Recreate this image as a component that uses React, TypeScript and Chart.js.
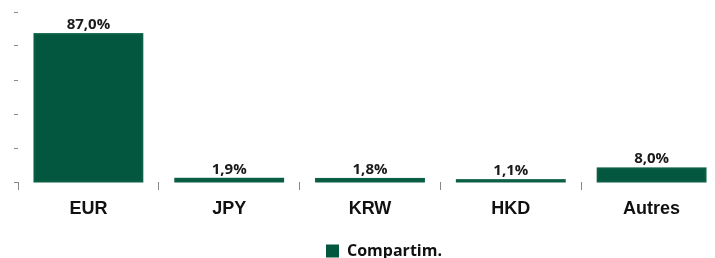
import React, { useEffect, useRef } from "react";
import { Chart, registerables } from "chart.js";

Chart.register(...registerables);

const categories = ["EUR", "JPY", "KRW", "HKD", "Autres"];
const values = [87.0, 1.9, 1.8, 1.1, 8.0];
const seriesName = "Compartim.";
const yTicks = [0, 20, 40, 60, 80, 100];

const GREEN = "#03573F";

const labelPlugin = {
  id: "barLabels",
  afterDatasetsDraw(chart: any) {
    const ctx = chart.ctx;
    const meta = chart.getDatasetMeta(0);
    ctx.save();
    ctx.strokeStyle = "#0b5f45";
    ctx.lineWidth = 2;
    meta.data.forEach((bar: any) => {
      const w = bar.width;
      ctx.strokeRect(bar.x - w / 2, bar.y, w, bar.base - bar.y);
    });
    ctx.font = "bold 15px 'Open Sans'";
    ctx.fillStyle = "#1a1a1a";
    ctx.textAlign = "center";
    ctx.textBaseline = "alphabetic";
    meta.data.forEach((bar: any, i: number) => {
      const txt = values[i].toFixed(1).replace(".", ",") + "%";
      ctx.fillText(txt, bar.x, bar.y - 5);
    });
    ctx.restore();
  },
};

export default function App() {
  const ref = useRef<HTMLCanvasElement | null>(null);
  useEffect(() => {
    if (!ref.current) return;
    const chart = new Chart(ref.current, {
      type: "bar",
      data: {
        labels: categories,
        datasets: [
          {
            label: seriesName,
            data: values,
            backgroundColor: GREEN,
            borderWidth: 0,
            categoryPercentage: 1,
            barPercentage: 0.766,
          },
        ],
      },
      options: {
        responsive: false,
        animation: false,
        maintainAspectRatio: false,
        layout: { padding: { left: 14, right: 0, top: 12, bottom: 0 } },
        plugins: {
          tooltip: { enabled: false },
          legend: {
            position: "bottom",
            labels: {
              boxWidth: 13,
              boxHeight: 13,
              color: "#111",
              font: { family: "'Open Sans'", weight: "bold", size: 16 },
              padding: 10,
            },
          },
        },
        scales: {
          x: {
            border: { display: false },
            grid: {
              display: true,
              drawOnChartArea: false,
              drawTicks: true,
              tickLength: 8,
              color: "#888",
              offset: true,
            },
            ticks: {
              color: "#111",
              padding: 8,
              font: { family: "'Liberation Sans'", weight: "bold", size: 18 },
            },
            afterFit: (scale: any) => {
              scale.height = 51;
            },
          },
          y: {
            min: 0,
            max: 100,
            afterBuildTicks: (scale: any) => {
              scale.ticks = yTicks.map((v) => ({ value: v }));
            },
            border: { display: false },
            grid: {
              display: true,
              drawOnChartArea: false,
              drawTicks: true,
              tickLength: 4,
              color: "#888",
            },
            ticks: { display: false },
          },
          yRight: {
            type: "linear",
            position: "right",
            min: 0,
            max: 100,
            border: { display: false },
            grid: { display: false },
            ticks: { display: false },
            afterFit: (scale: any) => {
              scale.width = 32;
            },
          },
        },
      },
      plugins: [labelPlugin],
    });
    return () => chart.destroy();
  }, []);
  return (
    <div style={{ position: "absolute", left: 0, top: 0, width: 754, height: 269 }}>
      <canvas ref={ref} width={754} height={269} style={{ width: 754, height: 269 }} />
    </div>
  );
}
